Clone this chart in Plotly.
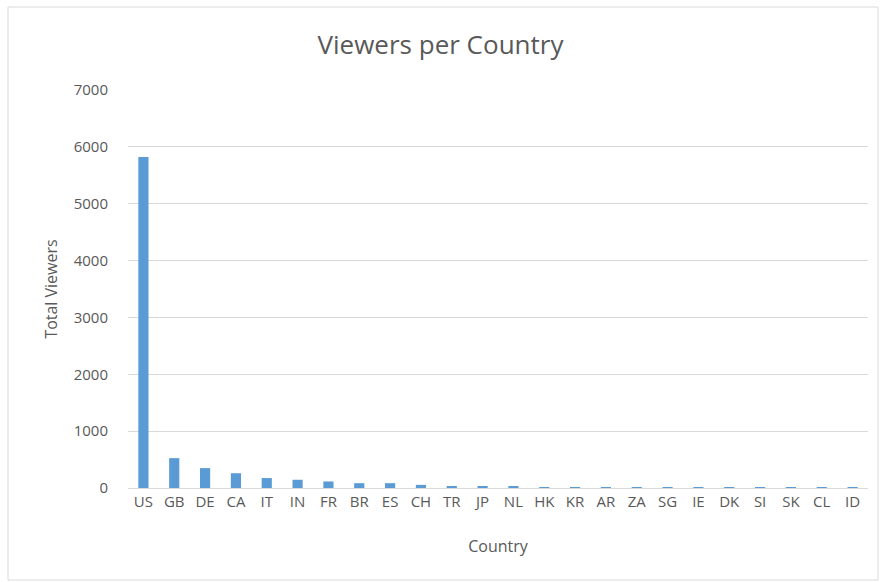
import plotly.graph_objects as go

countries = ["US", "GB", "DE", "CA", "IT", "IN", "FR", "BR", "ES", "CH", "TR", "JP",
             "NL", "HK", "KR", "AR", "ZA", "SG", "IE", "DK", "SI", "SK", "CL", "ID"]
viewers = [5820, 525, 350, 260, 175, 145, 115, 85, 85, 55, 30, 28,
           35, 4, 3, 3, 3, 2, 2, 2, 2, 1, 1, 1]
y_ticks = [0, 1000, 2000, 3000, 4000, 5000, 6000, 7000]

W, H = 881, 582
L, R, T, B = 128, 13, 90, 94
pw, ph = W - L - R, H - T - B

font_family = "Open Sans, Noto Sans, sans-serif"
grey = "#595959"

fig = go.Figure(go.Bar(x=countries, y=viewers, marker_color="#5b9bd5",
                       marker_line_width=0, width=0.33))

fig.update_layout(
    width=W, height=H,
    margin=dict(l=L, r=R, t=T, b=B, pad=0),
    paper_bgcolor="white", plot_bgcolor="white",
    font=dict(family=font_family, color=grey, size=14),
    title=dict(text="Viewers per Country", x=0.5, xanchor="center",
               y=1 - 45 / H, yanchor="middle",
               font=dict(size=26, color=grey, family=font_family)),
    showlegend=False,
)
fig.update_xaxes(
    title=dict(text="Country", font=dict(size=16, color=grey), standoff=30),
    showgrid=False, showline=True, linecolor="#d9d9d9", linewidth=1,
    ticks="", tickfont=dict(size=15, color=grey), range=[-0.5, len(countries) - 0.5],
    ticklabelstandoff=0,
)
fig.update_yaxes(
    title=dict(text="Total Viewers", font=dict(size=16, color=grey), standoff=12),
    range=[0, 7000], tickvals=y_ticks, showgrid=True, gridcolor="#d9d9d9",
    gridwidth=1, zeroline=False, showline=False, ticks="",
    tickfont=dict(size=15, color=grey), ticklabelstandoff=19,
)

# chart frame
fig.add_shape(type="rect", xref="paper", yref="paper",
              x0=(8 - L) / pw, x1=(878 - L) / pw,
              y0=-(580 - T - ph) / ph, y1=1 + (T - 7) / ph,
              line=dict(color="#d9d9d9", width=1), layer="below")

fig.write_html("out.html")
